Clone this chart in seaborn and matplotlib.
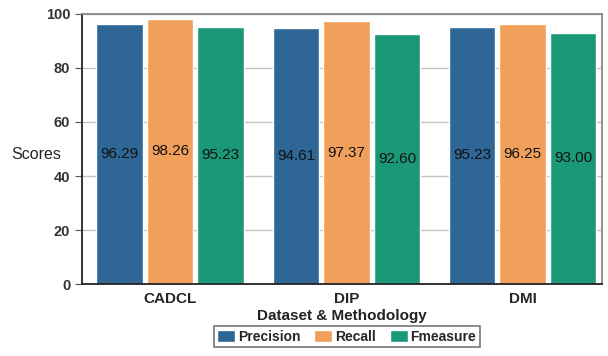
import pandas as pd
import matplotlib
matplotlib.use("Agg")
import matplotlib.pyplot as plt
import seaborn as sns

methods = ["CADCL", "DIP", "DMI"]
metrics = ["Precision", "Recall", "Fmeasure"]
precision = [96.29, 94.61, 95.23]
recall = [98.26, 97.37, 96.25]
fmeasure = [95.23, 92.60, 93.00]
colors = ["#2e6696", "#f0a05a", "#1a9877"]

df = pd.DataFrame({"Method": methods, "Precision": precision,
                   "Recall": recall, "Fmeasure": fmeasure})
df = df.melt(id_vars="Method", var_name="Metric", value_name="Score")

sns.set_style("white")
plt.rcParams['font.family'] = ['Liberation Sans', 'DejaVu Sans']

fig = plt.figure(figsize=(6.08, 3.56), dpi=100)
ax = fig.add_axes([0.135, 0.202, 0.855, 0.759])
sns.barplot(data=df, x="Method", y="Score", hue="Metric", hue_order=metrics,
            palette=colors, width=0.86, gap=0.08, saturation=1, ax=ax)

for c in ax.containers:
    ax.bar_label(c, labels=[f"{v:.2f}" for v in c.datavalues],
                 label_type="center", fontsize=11, color="#111111")

ax.set_ylim(0, 100)
ax.set_xlim(-0.5, 2.45)
ax.set_yticks([0, 20, 40, 60, 80, 100])
ax.yaxis.grid(True, color="#c4c4c4", linewidth=1)
ax.set_axisbelow(True)
ax.tick_params(axis="y", left=True, length=5, color="#555555",
               labelsize=10.5, labelcolor="#333333")
ax.tick_params(axis="x", bottom=False, labelsize=11, pad=2)
for lab in ax.get_yticklabels() + ax.get_xticklabels():
    lab.set_fontweight("bold")
for s in ["left", "bottom"]:
    ax.spines[s].set_color("#222222")
    ax.spines[s].set_linewidth(1.3)
for s in ["top", "right"]:
    ax.spines[s].set_color("#888888")
    ax.spines[s].set_linewidth(1.3)

ax.set_xlabel("Dataset & Methodology", fontsize=11, fontweight="bold",
              color="#222222", labelpad=2)
ax.set_ylabel("")
fig.text(0.018, 0.565, "Scores", fontsize=11.5, va="center",
         family=['Liberation Sans Narrow', 'Liberation Sans'])

leg = ax.legend(loc="lower center", bbox_to_anchor=(0.509, -0.26), ncol=3,
                frameon=True, fancybox=False,
                handlelength=1.3, handleheight=1.0, handletextpad=0.2,
                columnspacing=1.0, borderpad=0.25, edgecolor="#555555",
                prop={"weight": "bold", "size": 10})
leg.get_frame().set_linewidth(1.2)

fig.savefig("out.png", dpi=100)
